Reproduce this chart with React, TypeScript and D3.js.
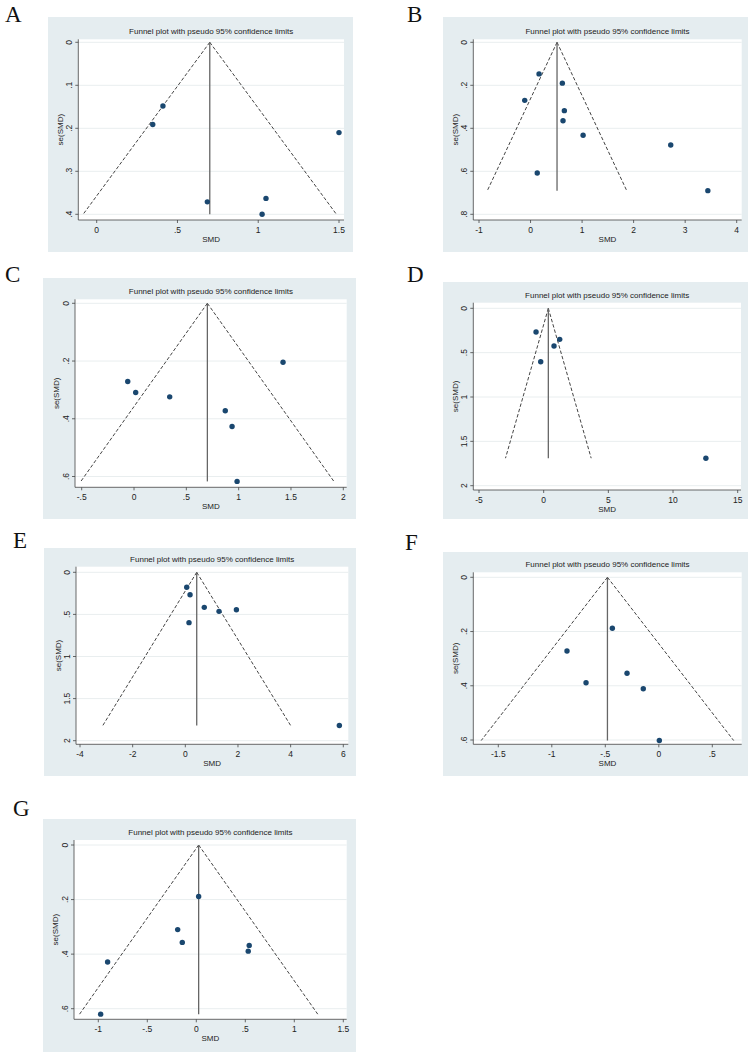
import React from "react";
import * as d3 from "d3";

// study points: SMD and its standard error
const smdA = [0.41, 0.347, 1.5, 0.685, 1.048, 1.024];
const seA = [0.148, 0.191, 0.21, 0.371, 0.363, 0.4];
const smdB = [0.165, 0.617, -0.113, 0.656, 0.63, 1.02, 2.72, 0.13, 3.44];
const seB = [0.147, 0.19, 0.27, 0.318, 0.365, 0.432, 0.478, 0.608, 0.69];
const smdC = [-0.06, 0.016, 0.341, 1.424, 0.872, 0.937, 0.985];
const seC = [0.271, 0.309, 0.324, 0.204, 0.372, 0.427, 0.617];
const smdD = [-0.59, -0.23, 0.8, 1.24, 12.54];
const seD = [0.267, 0.602, 0.425, 0.35, 1.69];
const smdE = [0.053, 0.18, 0.14, 0.72, 1.28, 1.94, 5.85];
const seE = [0.178, 0.266, 0.598, 0.416, 0.464, 0.444, 1.82];
const smdF = [-0.434, -0.858, -0.68, -0.297, -0.145, 0.005];
const seF = [0.188, 0.272, 0.389, 0.354, 0.411, 0.602];
const smdG = [0.024, -0.19, -0.143, 0.54, 0.53, -0.905, -0.976];
const seG = [0.189, 0.31, 0.357, 0.368, 0.389, 0.429, 0.62];

// pooled estimate (apex of the funnel) per panel
const pooled = [0.7, 0.514, 0.701, 0.36, 0.433, -0.48, 0.024];

const letters = ["A", "B", "C", "D", "E", "F", "G"];

const xTicksA = [0, 0.5, 1, 1.5];
const xTicksB = [-1, 0, 1, 2, 3, 4];
const xTicksC = [-0.5, 0, 0.5, 1, 1.5, 2];
const xTicksD = [-5, 0, 5, 10, 15];
const xTicksE = [-4, -2, 0, 2, 4, 6];
const xTicksF = [-1.5, -1, -0.5, 0, 0.5];
const xTicksG = [-1, -0.5, 0, 0.5, 1, 1.5];

const yTicksA = [0, 0.1, 0.2, 0.3, 0.4];
const yTicksB = [0, 0.2, 0.4, 0.6, 0.8];
const yTicksC = [0, 0.2, 0.4, 0.6];
const yTicksD = [0, 0.5, 1, 1.5, 2];
const yTicksE = [0, 0.5, 1, 1.5, 2];
const yTicksF = [0, 0.2, 0.4, 0.6];
const yTicksG = [0, 0.2, 0.4, 0.6];

const title = "Funnel plot with pseudo 95% confidence limits";

const panelData = [
  { smd: smdA, se: seA, xt: xTicksA, yt: yTicksA },
  { smd: smdB, se: seB, xt: xTicksB, yt: yTicksB },
  { smd: smdC, se: seC, xt: xTicksC, yt: yTicksC },
  { smd: smdD, se: seD, xt: xTicksD, yt: yTicksD },
  { smd: smdE, se: seE, xt: xTicksE, yt: yTicksE },
  { smd: smdF, se: seF, xt: xTicksF, yt: yTicksF },
  { smd: smdG, se: seG, xt: xTicksG, yt: yTicksG },
];

// layout: grey box, axis lines, pixel anchors for the scales, letter position
const layouts = [
  { box: [48, 17, 353, 252], ax: 78.3, ay: 220, xs: [0, 96.7, 1.5, 339], ys: [0, 42.3, 0.4, 214.3], top: 39.3, right: 344, lt: [5, 22] },
  { box: [443, 17, 748, 252], ax: 473.3, ay: 220, xs: [-1, 479, 4, 736.7], ys: [0, 42.3, 0.8, 214.3], top: 39.3, right: 741.7, lt: [407, 22] },
  { box: [43, 278, 356, 519], ax: 75, ay: 487.3, xs: [-0.5, 81.7, 2, 343.3], ys: [0, 303.3, 0.6, 476.5], top: 299.3, right: 346.7, lt: [5, 282] },
  { box: [443, 282, 748, 519], ax: 473.3, ay: 490, xs: [-5, 479, 15, 737.7], ys: [0, 308.3, 2, 485.7], top: 302.7, right: 741, lt: [407, 282] },
  { box: [44, 548, 356, 776], ax: 76, ay: 744.3, xs: [-4, 80, 6, 343.3], ys: [0, 572.3, 2, 740.7], top: 566.7, right: 348.3, lt: [13, 548] },
  { box: [443, 552, 748, 776], ax: 473.3, ay: 744.3, xs: [-1.5, 498.3, 0.5, 712.3], ys: [0, 577.3, 0.6, 740], top: 572.3, right: 741.7, lt: [405, 550] },
  { box: [43, 819, 356, 1052], ax: 74, ay: 1019.3, xs: [-1, 98.3, 1.5, 343.3], ys: [0, 845, 0.6, 1008.7], top: 840, right: 346.7, lt: [13, 816] },
];

const fmt = (v: number) => String(+v.toFixed(2)).replace(/^(-?)0\./, "$1.");

const font = "'Liberation Sans', Arial, sans-serif";

function Panel({ i }: { i: number }) {
  const d = panelData[i];
  const L = layouts[i];
  const x = d3.scaleLinear().domain([L.xs[0], L.xs[2]]).range([L.xs[1], L.xs[3]]);
  const y = d3.scaleLinear().domain([L.ys[0], L.ys[2]]).range([L.ys[1], L.ys[3]]);
  const theta = pooled[i];
  const seMax = d3.max(d.se) as number;
  const [bx0, by0, bx1, by1] = L.box;
  const cx = (L.ax + L.right) / 2;
  const funnel = d3.line<[number, number]>().x((p) => x(p[0])).y((p) => y(p[1]));
  const leftArm: [number, number][] = [[theta, 0], [theta - 1.96 * seMax, seMax]];
  const rightArm: [number, number][] = [[theta, 0], [theta + 1.96 * seMax, seMax]];
  return (
    <g>
      <text x={L.lt[0]} y={L.lt[1]} fontFamily="'Liberation Serif', 'Times New Roman', serif" fontSize={23} fill="#111">
        {letters[i]}
      </text>
      <rect x={bx0} y={by0} width={bx1 - bx0} height={by1 - by0} fill="#e5edf0" />
      <rect x={L.ax} y={L.top} width={L.right - L.ax} height={L.ay - L.top} fill="#ffffff" />
      <text x={cx} y={L.top - 7.5} textAnchor="middle" dominantBaseline="central" fontFamily={font} fontSize={8} fill="#222">
        {title}
      </text>
      {d.yt.map((t) => (
        <g key={"gy" + t}>
          <line x1={L.ax} x2={L.right} y1={y(t)} y2={y(t)} stroke="#e9eeef" strokeWidth={1} />
          <line x1={L.ax - 3} x2={L.ax} y1={y(t)} y2={y(t)} stroke="#444" strokeWidth={0.8} />
          <text
            x={L.ax - 9}
            y={y(t)}
            transform={`rotate(-90, ${L.ax - 9}, ${y(t)})`}
            textAnchor="middle"
            dominantBaseline="central"
            fontFamily={font}
            fontSize={8.5}
            fill="#222"
          >
            {fmt(t)}
          </text>
        </g>
      ))}
      {d.xt.map((t) => (
        <g key={"gx" + t}>
          <line x1={x(t)} x2={x(t)} y1={L.ay} y2={L.ay + 3} stroke="#444" strokeWidth={0.8} />
          <text x={x(t)} y={L.ay + 10} textAnchor="middle" dominantBaseline="central" fontFamily={font} fontSize={8.5} fill="#222">
            {fmt(t)}
          </text>
        </g>
      ))}
      <line x1={L.ax} x2={L.ax} y1={L.top} y2={L.ay} stroke="#444" strokeWidth={0.8} />
      <line x1={L.ax} x2={L.right} y1={L.ay} y2={L.ay} stroke="#444" strokeWidth={0.8} />
      <text x={cx} y={L.ay + 19} textAnchor="middle" dominantBaseline="central" fontFamily={font} fontSize={8} fill="#222">
        SMD
      </text>
      <text
        x={L.ax - 18}
        y={(L.top + L.ay) / 2}
        transform={`rotate(-90, ${L.ax - 18}, ${(L.top + L.ay) / 2})`}
        textAnchor="middle"
        dominantBaseline="central"
        fontFamily={font}
        fontSize={8}
        fill="#222"
      >
        se(SMD)
      </text>
      <path d={funnel(leftArm) || ""} fill="none" stroke="#444" strokeWidth={1} strokeDasharray="3.5,2" />
      <path d={funnel(rightArm) || ""} fill="none" stroke="#444" strokeWidth={1} strokeDasharray="3.5,2" />
      <line x1={x(theta)} x2={x(theta)} y1={y(0)} y2={y(seMax)} stroke="#666" strokeWidth={1.3} />
      {d.smd.map((v, k) => (
        <circle key={k} cx={x(v)} cy={y(d.se[k])} r={2.7} fill="#1a476f" />
      ))}
    </g>
  );
}

export default function App() {
  return (
    <svg width={750} height={1052} style={{ position: "absolute", left: 0, top: 0, background: "#fff" }}>
      {letters.map((_, i) => (
        <Panel key={i} i={i} />
      ))}
    </svg>
  );
}
